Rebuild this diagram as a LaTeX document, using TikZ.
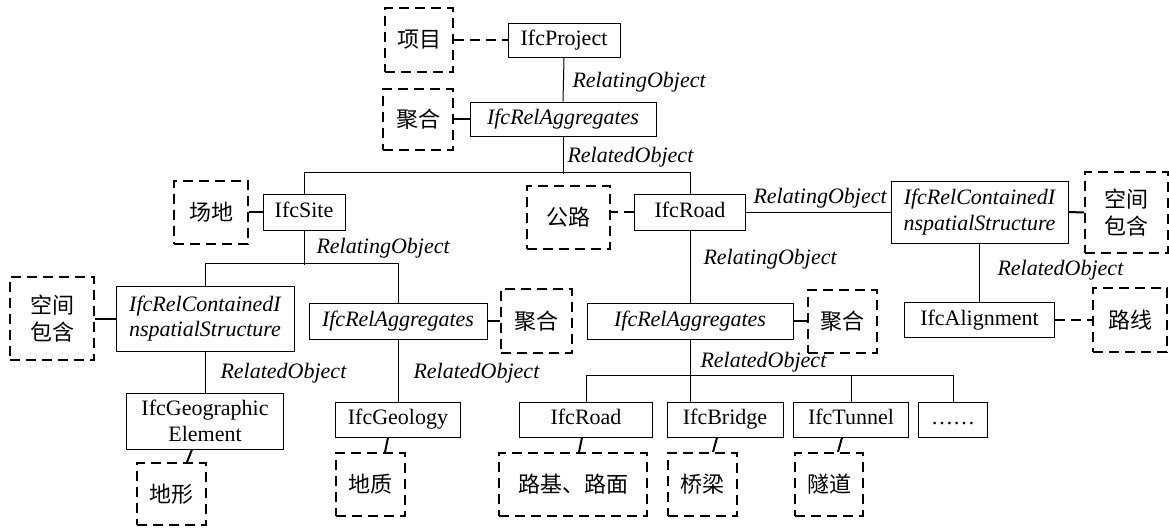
\documentclass[tikz,border=0pt]{standalone}
\usepackage{fontspec}
\setmainfont{Liberation Serif}
\newfontfamily\cjk{Noto Sans CJK SC}

\tikzset{every picture/.style={line width=0.75pt}}
\tikzset{
	ifcbox/.style={draw, inner sep=0pt, text height=11.5pt, text depth=3.5pt, font=\fontsize{16.5}{19}\selectfont},
	relbox/.style={ifcbox, font=\fontsize{16.5}{19}\selectfont\itshape},
	twoline/.style={align=center, text height=, text depth=},
	cnbox/.style={draw, line width=1.5pt, dash pattern=on 7.5pt off 4.5pt, inner sep=0pt, align=center, font=\fontsize{16.5}{20}\selectfont\cjk},
	rolelbl/.style={anchor=west, inner sep=0pt, font=\fontsize{16.5}{19}\selectfont\itshape},
	dlink/.style={line width=1.5pt, dash pattern=on 7.5pt off 4.5pt},
	slink/.style={line width=1.5pt},
}

\begin{document}
\begin{tikzpicture}[x=0.75pt,y=0.75pt,yscale=-1,xscale=1]
		\path[use as bounding box] (0,0) rectangle (1169,529);
		
		%Top: project and aggregation
		\node[ifcbox, minimum width=84pt, minimum height=25.5pt] (prj) at (564,40) {IfcProject};
		\node[cnbox, minimum width=51pt, minimum height=48pt] (xm) at (419,40) {项目};
		\node[relbox, minimum width=139.5pt, minimum height=25.5pt] (agg1) at (563,119) {IfcRelAggregates};
		\node[cnbox, minimum width=52.5pt, minimum height=45.75pt] (jh1) at (418,119) {聚合};
		
		%Second level: site and road
		\node[ifcbox, minimum width=61.5pt, minimum height=27pt] (site) at (304,212) {IfcSite};
		\node[cnbox, minimum width=55.5pt, minimum height=47.25pt] (cd) at (211,212) {场地};
		\node[ifcbox, minimum width=83.25pt, minimum height=27pt] (road) at (690,212) {IfcRoad};
		\node[cnbox, minimum width=62.25pt, minimum height=47.25pt] (gl) at (568,217) {公路};
		\node[relbox, twoline, minimum width=132.75pt, minimum height=46.5pt] (rcs2) at (979.5,212) {IfcRelContainedI\\nspatialStructure};
		\node[cnbox, minimum width=62.25pt, minimum height=60.75pt] (kj2) at (1126.5,212.5) {空间\\包含};
		
		%Third level
		\node[relbox, twoline, minimum width=133.5pt, minimum height=48.75pt] (rcs1) at (205,318.5) {IfcRelContainedI\\nspatialStructure};
		\node[cnbox, minimum width=63pt, minimum height=62.25pt] (kj1) at (52,318.5) {空间\\包含};
		\node[relbox, minimum width=133.5pt, minimum height=27pt] (agg2) at (398,321) {IfcRelAggregates};
		\node[cnbox, minimum width=53.25pt, minimum height=48pt] (jh2) at (536.5,321) {聚合};
		\node[relbox, minimum width=154.5pt, minimum height=27pt] (agg3) at (690,321) {IfcRelAggregates};
		\node[cnbox, minimum width=51.75pt, minimum height=47.25pt] (jh3) at (842.5,321) {聚合};
		\node[ifcbox, minimum width=112.5pt, minimum height=26.25pt] (aln) at (979.5,320) {IfcAlignment};
		\node[cnbox, minimum width=55.5pt, minimum height=48pt] (lx) at (1130,320) {路线};
		
		%Bottom level
		\node[ifcbox, twoline, minimum width=117.75pt, minimum height=42pt] (geo) at (205,421) {IfcGeographic\\Element};
		\node[cnbox, minimum width=51.75pt, minimum height=46.5pt] (dx) at (171.5,494) {地形};
		\node[ifcbox, minimum width=93.75pt, minimum height=26.25pt] (gy) at (398,419.5) {IfcGeology};
		\node[cnbox, minimum width=51.75pt, minimum height=47.25pt] (dz) at (370.5,484.5) {地质};
		\node[ifcbox, minimum width=99.75pt, minimum height=26.25pt] (rd2) at (586,419.5) {IfcRoad};
		\node[ifcbox, minimum width=87pt, minimum height=26.25pt] (brg) at (725,419.5) {IfcBridge};
		\node[ifcbox, minimum width=86.25pt, minimum height=26.25pt] (tnl) at (851,419.5) {IfcTunnel};
		\node[ifcbox, minimum width=51.75pt, minimum height=26.25pt] (etc) at (953,419.5) {……};
		\node[cnbox, minimum width=111pt, minimum height=47.25pt] (ljlm) at (573,484.5) {路基、路面};
		\node[cnbox, minimum width=51.75pt, minimum height=47.25pt] (ql) at (702.5,484.5) {桥梁};
		\node[cnbox, minimum width=51pt, minimum height=47.25pt] (sd) at (829,484.5) {隧道};
		
		%Tree lines
		\draw (prj.south) -- (agg1.north);
		\draw (agg1.south) -- ++(0,37);
		\draw (site.north) -- ++(0,-21) -| (road.north);
		\draw (site.south) -- ++(0,34);
		\draw (rcs1.north) -- ++(0,-22) -| (agg2.north);
		\draw (rcs1.south) -- (geo.north);
		\draw (agg2.south) -- (gy.north);
		\draw (road.east) -- (rcs2.west);
		\draw (rcs2.south) -- (aln.north);
		\draw (road.south) -- (agg3.north);
		\draw (agg3.south) -- (agg3.south |- brg.north);
		\draw (rd2.north) -- ++(0,-26) -| (etc.north);
		\draw (tnl.north) -- ++(0,-26);
		
		%Links to the Chinese notes
		\draw[dlink] (xm.east) -- (prj.west);
		\draw[slink] (jh1.east) -- (agg1.west);
		\draw[slink] (cd.east) -- (site.west);
		\draw[dlink] (road.west) -- (road.west -| gl.east);
		\draw[slink] (rcs2.east) -- (kj2.west);
		\draw[dlink] (aln.east) -- (lx.west);
		\draw[slink] (kj1.east) -- (rcs1.west);
		\draw[slink] (agg2.east) -- (jh2.west);
		\draw[slink] (agg3.east) -- (jh3.west);
		\draw[slink] ([xshift=-9.75pt]geo.south) -- ([xshift=11.6pt]dx.north);
		\draw[slink] ([xshift=-7.5pt]gy.south) -- ([xshift=10.9pt]dz.north);
		\draw[slink] ([xshift=-3pt]rd2.south) -- ([xshift=4.5pt]ljlm.north);
		\draw[slink] ([xshift=-6pt]brg.south) -- ([xshift=7.9pt]ql.north);
		\draw[slink] ([xshift=-6.75pt]tnl.south) -- ([xshift=6.75pt]sd.north);
		
		%Role labels
		\node[rolelbl] (lb1) at (572,82) {RelatingObject};
		\node[rolelbl] (lb2) at (567,157) {RelatedObject};
		\node[rolelbl] (lb3) at (316,248) {RelatingObject};
		\node[rolelbl] (lb4) at (753,198) {RelatingObject};
		\node[rolelbl] (lb5) at (703,259) {RelatingObject};
		\node[rolelbl] (lb6) at (997,270) {RelatedObject};
		\node[rolelbl] (lb7) at (220,373) {RelatedObject};
		\node[rolelbl] (lb8) at (413,373) {RelatedObject};
		\node[rolelbl] (lb9) at (700,362) {RelatedObject};
		
\end{tikzpicture}
\end{document}
